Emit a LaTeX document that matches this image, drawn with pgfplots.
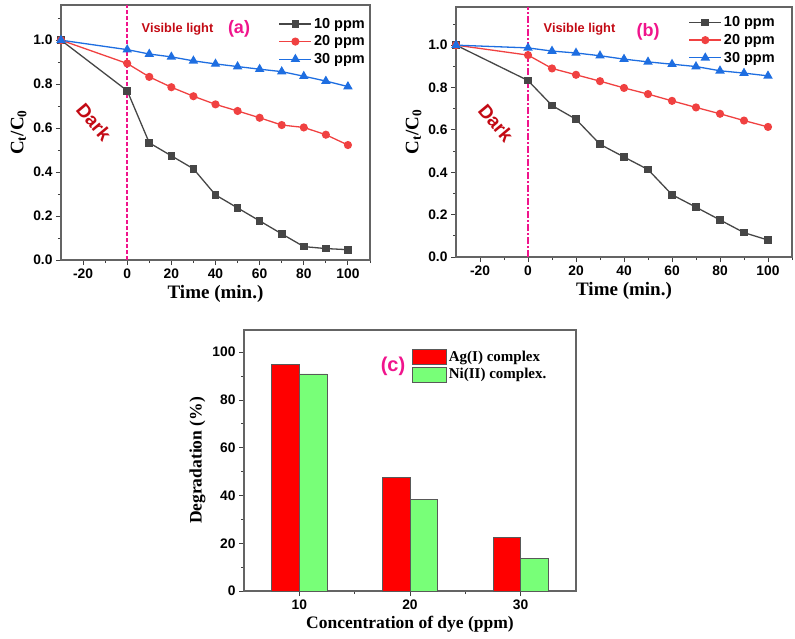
\documentclass[border=0pt]{standalone}
\usepackage{fontspec}
\setmainfont{Liberation Serif}
\setsansfont{Liberation Sans}
\usepackage{pgfplots}
\pgfplotsset{compat=1.18}
\definecolor{cgray}{RGB}{70,70,70}
\definecolor{cred}{RGB}{240,65,65}
\definecolor{cblue}{RGB}{30,110,225}
\definecolor{cpink}{RGB}{240,20,140}
\definecolor{cdark}{RGB}{195,10,20}
\definecolor{cframe}{RGB}{100,100,100}
\definecolor{bred}{RGB}{255,0,0}
\definecolor{bgreen}{RGB}{120,255,120}
\pgfplotsset{
  panel/.style={scale only axis, clip=false,
    axis line style={cframe, line width=1.2pt},
    tick style={black!75, line width=0.9pt},
    tick align=outside, tick pos=left,
    major tick length=5pt, minor tick length=3pt,
    ticklabel style={font=\sffamily\bfseries\fontsize{13.8}{16}\selectfont},
    /pgf/number format/assume math mode=true,
  },
  kin/.style={panel,
    xmin=-30, xmax=110, ymin=0,
    xtick={-20,0,20,40,60,80,100}, minor xtick={-10,10,30,50,70,90,110},
    ytick={0,0.2,0.4,0.6,0.8,1.0}, minor ytick={0.1,0.3,0.5,0.7,0.9,1.1},
    yticklabel style={/pgf/number format/.cd, fixed, fixed zerofill, precision=1},
    xlabel={Time (min.)},
    ylabel={C\textsubscript{t}/C\textsubscript{0}},
    label style={font=\rmfamily\bfseries\fontsize{19}{22}\selectfont},
    legend style={draw=none, fill=none, anchor=north east,
      font=\sffamily\bfseries\fontsize{14.5}{17}\selectfont, row sep=2pt},
    legend cell align=left,
    legend image code/.code={\draw[mark repeat=2,mark phase=2,#1] plot coordinates {(0pt,0pt) (16pt,0pt) (32pt,0pt)};},
  },
  s10/.style={cgray, line width=1.3pt, mark=square*, mark size=3.2pt, mark options={solid, fill=cgray}},
  s20/.style={cred, line width=1.3pt, mark=*, mark size=3.4pt, mark options={solid, fill=cred}},
  s30/.style={cblue, line width=1.3pt, mark=triangle*, mark size=4.2pt, mark options={solid, fill=cblue}},
}
\pgfplotstableread{
t    a10   a20   a30
-30  1.000 1.000 1.000
0    0.770 0.894 0.957
10   0.533 0.833 0.937
20   0.474 0.786 0.924
30   0.415 0.745 0.906
40   0.296 0.708 0.892
50   0.237 0.678 0.880
60   0.178 0.647 0.868
70   0.119 0.614 0.857
80   0.061 0.603 0.836
90   0.052 0.570 0.814
100  0.047 0.523 0.789
}\dataA
\pgfplotstableread{
t    b10   b20   b30
-30  1.000 1.000 1.000
0    0.833 0.953 0.987
10   0.715 0.890 0.972
20   0.650 0.860 0.963
30   0.532 0.830 0.950
40   0.472 0.798 0.934
50   0.413 0.769 0.921
60   0.294 0.737 0.910
70   0.235 0.706 0.899
80   0.175 0.676 0.879
90   0.115 0.644 0.868
100  0.080 0.614 0.855
}\dataB
\pgfplotstableread{
c   ag   ni
10  95.0 90.9
20  47.6 38.4
30  22.6 13.5
}\dataC
\begin{document}
\begin{tikzpicture}
\useasboundingbox (0pt,0pt) rectangle (795pt,-638pt);
% ---------- (a)
\begin{axis}[kin, at={(61pt,-260pt)}, anchor=south west, width=309pt, height=255pt, ymax=1.16,
  legend style={at={(1.0,0.965)}}]
\addplot[s10] table[x=t,y=a10] {\dataA};
\addplot[s20] table[x=t,y=a20] {\dataA};
\addplot[s30] table[x=t,y=a30] {\dataA};
\legend{10 ppm, 20 ppm, 30 ppm}
\addplot[cpink, line width=2pt, dash pattern=on 4pt off 2pt, forget plot] coordinates {(0,0) (0,1.16)};
\end{axis}
% ---------- (b)
\begin{axis}[kin, at={(456pt,-257pt)}, anchor=south west, width=336pt, height=250pt, ymax=1.18,
  legend style={at={(0.964,0.978)}}]
\addplot[s10] table[x=t,y=b10] {\dataB};
\addplot[s20] table[x=t,y=b20] {\dataB};
\addplot[s30] table[x=t,y=b30] {\dataB};
\legend{10 ppm, 20 ppm, 30 ppm}
\addplot[cpink, line width=2pt, dash pattern=on 7pt off 2pt on 2pt off 2pt, forget plot] coordinates {(0,0) (0,1.18)};
\end{axis}
% ---------- (c)
\begin{axis}[panel, at={(244pt,-591pt)}, anchor=south west, width=332pt, height=261pt,
  xmin=5, xmax=35, ymin=0, ymax=109.3,
  xtick={10,20,30}, minor xtick={15,25},
  ytick={0,20,40,60,80,100}, minor ytick={10,30,50,70,90},
  ybar=0pt, bar width=27.6pt,
  xlabel={Concentration of dye (ppm)},
  ylabel={Degradation (\%)},
  label style={font=\rmfamily\bfseries\fontsize{17.5}{20}\selectfont},
  legend style={draw=none, fill=none, at={(0.497,0.937)}, anchor=north west,
    font=\rmfamily\bfseries\fontsize{15}{18}\selectfont, row sep=2pt},
  legend cell align=left,
  legend image code/.code={\draw[#1] (0pt,-7.5pt) rectangle (34pt,7.5pt);},
  ]
\addplot[draw=black!65, line width=0.7pt, fill=bred, bar shift=-13.8pt] table[x=c,y=ag] {\dataC};
\addplot[draw=black!65, line width=0.7pt, fill=bgreen, bar shift=13.8pt] table[x=c,y=ni] {\dataC};
\legend{Ag(I) complex, Ni(II) complex.}
\end{axis}
% ---------- annotations
\node[text=cdark, font=\sffamily\bfseries\fontsize{12.8}{15}\selectfont] at (177.5pt,-29pt) {Visible light};
\node[text=cpink, font=\sffamily\bfseries\fontsize{18}{21}\selectfont] at (239pt,-29pt) {(a)};
\node[text=cdark, font=\sffamily\bfseries\fontsize{19}{22}\selectfont, rotate=-50] at (94pt,-122pt) {Dark};
\node[text=cdark, font=\sffamily\bfseries\fontsize{12.8}{15}\selectfont] at (579.5pt,-29pt) {Visible light};
\node[text=cpink, font=\sffamily\bfseries\fontsize{18}{21}\selectfont] at (648pt,-32pt) {(b)};
\node[text=cdark, font=\sffamily\bfseries\fontsize{19}{22}\selectfont, rotate=-50] at (496pt,-123pt) {Dark};
\node[text=cpink, font=\sffamily\bfseries\fontsize{20}{23}\selectfont] at (393pt,-366pt) {(c)};
\end{tikzpicture}
\end{document}
